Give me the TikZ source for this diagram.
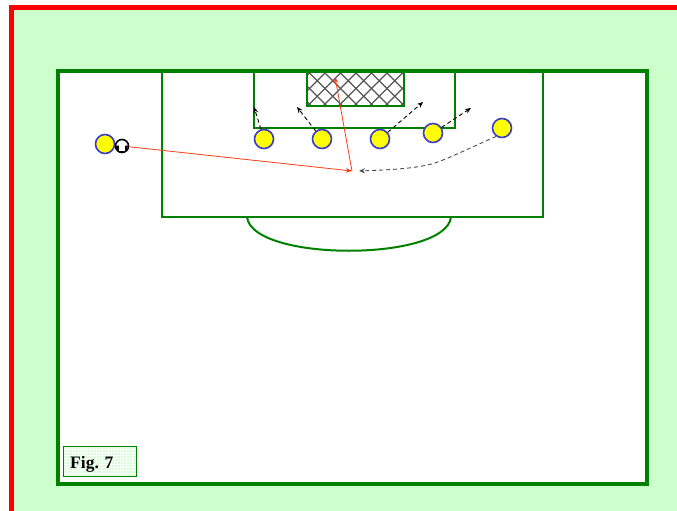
\documentclass[tikz,border=0pt]{standalone}
\usepackage{fontspec}
\setmainfont{Liberation Serif}
\usetikzlibrary{arrows.meta}
\definecolor{bggreen}{HTML}{CCFFCC}
\definecolor{fieldgreen}{HTML}{008000}
\definecolor{pblue}{HTML}{3C3CC8}
\definecolor{pyellow}{HTML}{FFFF00}
\definecolor{arrowred}{HTML}{FF3C14}
\definecolor{netgray}{HTML}{555555}
\definecolor{figfill}{HTML}{D8FFD8}
\begin{document}
\begin{tikzpicture}[x=1pt,y=-1pt,
  fieldline/.style={draw=fieldgreen,line width=2pt},
  player/.style={circle,draw=pblue,fill=pyellow,line width=1.6pt,minimum size=19pt,inner sep=0pt},
  ball/.style={circle,draw=black,fill=white,line width=1.6pt,minimum size=13pt,inner sep=0pt},
  redarrow/.style={draw=arrowred,line width=0.8pt,-{Stealth[length=6pt,width=4.5pt]}},
  dasharrow/.style={draw=black,line width=0.9pt,dash pattern=on 4pt off 3pt,-{Stealth[length=6pt,width=5pt]}},
  grayarrow/.style={draw=black!70,line width=0.9pt,dash pattern=on 4pt off 3pt,-{Stealth[length=6pt,width=5pt]}},
  figbox/.style={draw=fieldgreen,line width=0.8pt}
]
\useasboundingbox (0,0) rectangle (677,511);
\fill[white] (0,0) rectangle (677,511);
\fill[bggreen] (9,5) rectangle (677,511);
\fill[red] (9,5) rectangle (677,10);
\fill[red] (9,5) rectangle (14,511);
% field
\draw[draw=fieldgreen,line width=4pt,fill=white] (58,71) rectangle (647,484);
% net
\begin{scope}
\clip (307,71) rectangle (404,106);
\foreach \c in {0,15.5,...,200}{
  \draw[netgray,line width=1.1pt] (307+\c-60,120) -- (307+\c-60+70,50);
  \draw[netgray,line width=1.1pt] (240+\c,50) -- (240+\c+70,120);
}
\end{scope}
\draw[fieldline] (307,71) -- (307,106) -- (404,106) -- (404,71);
% goal area
\draw[fieldline] (254,71) -- (254,128) -- (455,128) -- (455,71);
% penalty area
\draw[fieldline] (162,71) -- (162,217) -- (543,217) -- (543,71);
% arc
\draw[fieldline] (247,217) .. controls (252,262) and (446,262) .. (451,217);
% top line redraw
\draw[draw=fieldgreen,line width=4pt] (56,71) -- (649,71);
% players
\node[player] (p1) at (105,144) {};
\node[player] (p2) at (264,139) {};
\node[player] (p3) at (322,139) {};
\node[player] (p4) at (380,139) {};
\node[player] (p5) at (433,133) {};
\node[player] (p6) at (502,128) {};
% ball
\node[ball] (b) at (122,146) {};
\fill[black] (b.center) ++(-6,-0.5) arc[start angle=185,end angle=-5,radius=6] -- cycle;
\fill[white] (119.3,145) rectangle (124.7,150.5);
% targets
\coordinate (k) at (352,171);
\coordinate (n) at (335,77);
\coordinate (t2) at (254,107);
\coordinate (t3) at (297,107);
\coordinate (t4) at (423,102);
\coordinate (t5) at (471,108);
\coordinate (m) at (359,171);
\draw[redarrow] (b) -- (k);
\draw[redarrow] (k) -- (n);
\draw[dasharrow] (p2) -- (t2);
\draw[dasharrow] (p3) -- (t3);
\draw[dasharrow] (p4) -- (t4);
\draw[dasharrow] (p5) -- (t5);
\draw[grayarrow] (p6.235) .. controls (465,150) and (440,163) .. (427,165) .. controls (410,169) and (385,170) .. (m);
% fig label
\begin{scope}
\fill[figfill] (63,446) rectangle (136,476);
\clip (63,446) rectangle (136,476);
\foreach \i in {0,3,...,80}{
  \draw[white,line width=0.6pt] (63+\i,446) -- (63+\i,476);
}
\foreach \i in {0,3,...,30}{
  \draw[white,line width=0.6pt] (63,446+\i) -- (136,446+\i);
}
\end{scope}
\draw[figbox] (63,446) rectangle (136,476);
\node[anchor=base west,inner sep=0pt,font=\bfseries\fontsize{17.5}{20}\selectfont] (fig) at (70,468) {Fig. 7};
\end{tikzpicture}
\end{document}
